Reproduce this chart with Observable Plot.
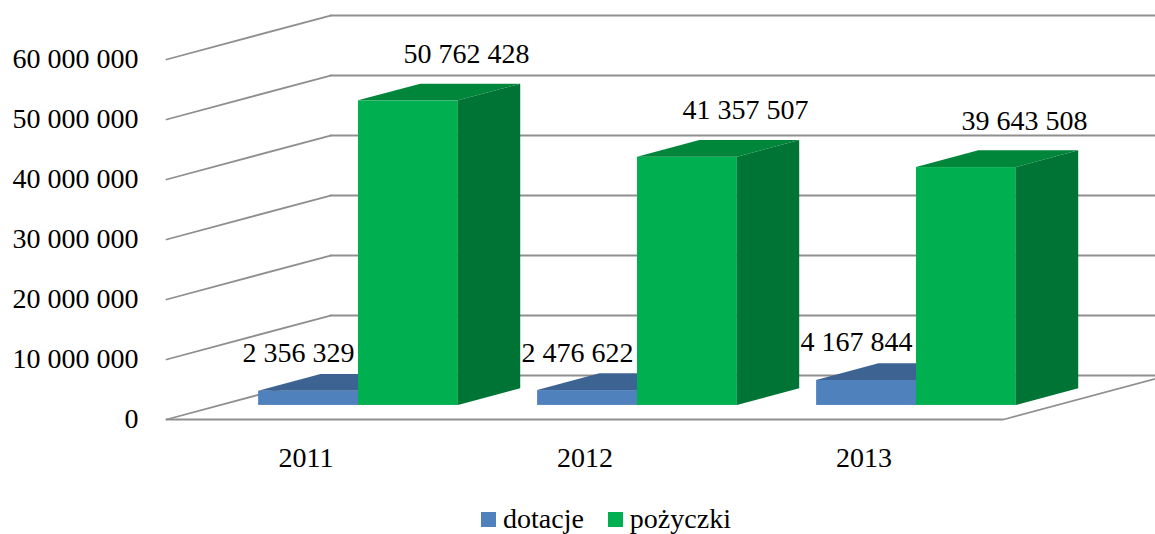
<!DOCTYPE html>
<html>
<head>
<meta charset="utf-8">
<script src="https://cdn.jsdelivr.net/npm/d3@7"></script>
<script src="https://cdn.jsdelivr.net/npm/@observablehq/plot@0.6"></script>
<style>
  html, body { margin: 0; padding: 0; background: #fff; }
  #chart svg { display: block; }
  #chart svg text { font-family: 'Liberation Serif', 'Times New Roman', serif; }
  #legend { display: flex; align-items: center; height: 34px; padding-left: 481px;
    font-family: 'Liberation Serif', 'Times New Roman', serif; font-size: 28px; color: #000; }
  #legend .sw { width: 15px; height: 15px; margin-right: 7px; }
  #legend .lab { margin-right: 24px; }
</style>
</head>
<body>
<div id="chart"></div>
<div id="legend"></div>
<script>
// ---- data ----
const years = ["2011", "2012", "2013"];
const dotacje = [2356329, 2476622, 4167844];
const pozyczki = [50762428, 41357507, 39643508];
const seriesNames = ["dotacje", "pożyczki"];
const yTicks = [0, 10000000, 20000000, 30000000, 40000000, 50000000, 60000000];

// ---- styling / 3D geometry (data units) ----
const frontColors = ["#4F81BD", "#00B050"];
const topColors = ["#3D6392", "#00863B"];
const sideColors = ["#375A85", "#007434"];
const FONT = "'Liberation Serif', 'Times New Roman', serif";
const DX = 0.588;       // full floor depth in x (category units)
const DY = 7.33e6;      // full floor depth in y (value units)
const ZF = 0.32, ZB = 0.70; // bar front/back depth
const BW = 0.358;       // bar width

const fmt = d => d3.format(",")(d).replace(/,/g, " ");

// gridlines: slanted left wall segment + back wall horizontal
const grid = [];
yTicks.forEach((v, k) => {
  grid.push({g: "l" + k, x: 0, y: v}, {g: "l" + k, x: DX, y: v + DY});
  grid.push({g: "b" + k, x: DX, y: v + DY}, {g: "b" + k, x: 3 + DX, y: v + DY});
});
// floor front edge and right edge
grid.push({g: "f", x: 0, y: 0}, {g: "f", x: 3, y: 0}, {g: "f", x: 3 + DX, y: DY});

const series = [dotacje, pozyczki];
const marks = [Plot.line(grid, {x: "x", y: "y", z: "g", stroke: "#8f8f8f", strokeWidth: 1.8})];
const allLabels = [];

series.forEach((vals, s) => {
  const fronts = [], tops = [], sides = [], labels = [];
  vals.forEach((v, i) => {
    const x0 = i + 0.5 + (s - 1) * BW, x1 = x0 + BW;
    const id = s + "-" + i;
    fronts.push({x1: x0 + ZF * DX, x2: x1 + ZF * DX, y1: ZF * DY, y2: v + ZF * DY});
    tops.push({id, y: v + ZF * DY, xa: x0 + ZF * DX, xb: x1 + ZF * DX},
              {id, y: v + ZB * DY, xa: x0 + ZB * DX, xb: x1 + ZB * DX});
    sides.push({id, x: x1 + ZF * DX, ya: ZF * DY, yb: v + ZF * DY},
               {id, x: x1 + ZB * DX, ya: ZB * DY, yb: v + ZB * DY});
    labels.push({x: (x0 + x1) / 2 + ZF * DX, y: v + ZF * DY, text: fmt(v)});
  });
  marks.push(
    Plot.rect(fronts, {x1: "x1", x2: "x2", y1: "y1", y2: "y2", fill: frontColors[s], inset: 0}),
    Plot.areaX(tops, {y: "y", x1: "xa", x2: "xb", z: "id", fill: topColors[s]}),
    Plot.areaY(sides, {x: "x", y1: "ya", y2: "yb", z: "id", fill: sideColors[s]})
  );
  allLabels.push(labels);
});

allLabels.forEach((labels, s) => {
  marks.push(Plot.text(labels, {
    x: "x", y: "y", text: "text",
    dx: s === 0 ? -10 : 58, dy: s === 0 ? -38 : -47,
    fontSize: 28, fontFamily: FONT, fill: "#000", textAnchor: "middle", lineAnchor: "middle"
  }));
});

marks.push(
  Plot.axisY({ticks: yTicks, tickFormat: fmt, tickSize: 0, tickPadding: 28,
    fontSize: 28, fontFamily: FONT, fill: "#000", label: null}),
  Plot.axisX({ticks: years.map((d, i) => i + 0.5), tickFormat: d => years[Math.floor(d)],
    tickSize: 0, tickPadding: 28, fontSize: 28, fontFamily: FONT, fill: "#000", label: null})
);

const chart = Plot.plot({
  width: 1155,
  height: 502,
  marginLeft: 166,
  marginRight: 152,
  marginTop: 59,
  marginBottom: 83,
  x: {domain: [0, 3]},
  y: {domain: [0, 60000000]},
  style: {fontFamily: FONT, fontSize: "28px", color: "#000", background: "#fff", overflow: "visible"},
  marks
});
document.getElementById("chart").append(chart);

const legend = document.getElementById("legend");
seriesNames.forEach((name, s) => {
  const sw = document.createElement("span");
  sw.className = "sw"; sw.style.background = frontColors[s];
  const lab = document.createElement("span");
  lab.className = "lab"; lab.textContent = name;
  legend.append(sw, lab);
});
</script>
</body>
</html>
